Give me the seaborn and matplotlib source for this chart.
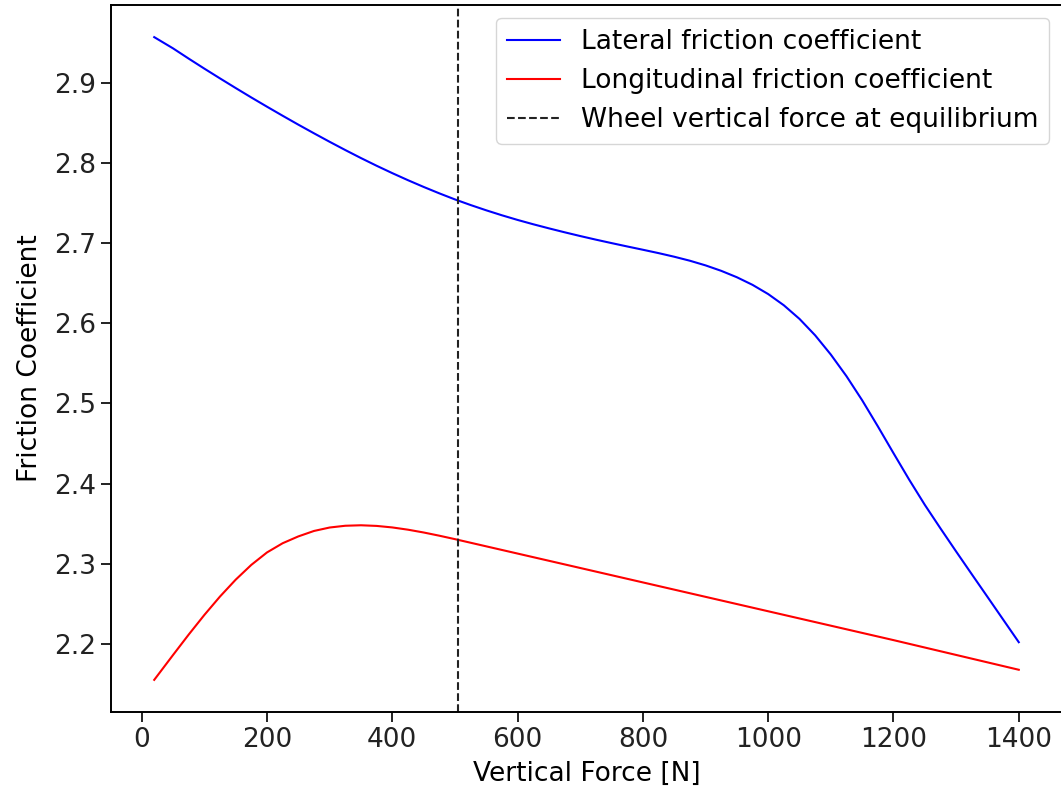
import matplotlib
matplotlib.use("Agg")
import matplotlib.pyplot as plt
import seaborn as sns
import pandas as pd

# Lateral friction coefficient vs vertical wheel load [N]
lateral_force = [20, 50, 75, 100, 125, 150, 175, 200, 225, 250, 275, 300, 325, 350,
                 375, 400, 425, 450, 475, 500, 525, 550, 575, 600, 625, 650, 675,
                 700, 725, 750, 775, 800, 825, 850, 875, 900, 925, 950, 975, 1000,
                 1025, 1050, 1075, 1100, 1125, 1150, 1175, 1200, 1225, 1250, 1275,
                 1300, 1325, 1350, 1375, 1400]
lateral_mu = [2.9570, 2.9430, 2.9302, 2.9177, 2.9055, 2.8935, 2.8817, 2.8702, 2.8589,
              2.8478, 2.8370, 2.8264, 2.8161, 2.8061, 2.7965, 2.7873, 2.7785, 2.7701,
              2.7621, 2.7545, 2.7475, 2.7409, 2.7347, 2.7289, 2.7235, 2.7184, 2.7135,
              2.7088, 2.7043, 2.7000, 2.6958, 2.6917, 2.6875, 2.6830, 2.6780, 2.6722,
              2.6654, 2.6574, 2.6479, 2.6364, 2.6224, 2.6054, 2.5849, 2.5609, 2.5339,
              2.5039, 2.4714, 2.4379, 2.4049, 2.3734, 2.3440, 2.3152, 2.2868, 2.2586,
              2.2303, 2.2020]

# Longitudinal friction coefficient vs vertical wheel load [N]
longitudinal_force = [20, 50, 75, 100, 125, 150, 175, 200, 225, 250, 275, 300, 325,
                      350, 375, 400, 425, 450, 475, 500, 600, 800, 1000, 1200, 1400]
longitudinal_mu = [2.1550, 2.1860, 2.2115, 2.2360, 2.2590, 2.2800, 2.2985, 2.3140,
                   2.3255, 2.3340, 2.3408, 2.3451, 2.3473, 2.3479, 2.3471, 2.3452,
                   2.3424, 2.3389, 2.3349, 2.3306, 2.3126, 2.2766, 2.2406, 2.2046,
                   2.1676]

equilibrium_force = 505

lat_df = pd.DataFrame({"Fz": lateral_force, "mu": lateral_mu})
lon_df = pd.DataFrame({"Fz": longitudinal_force, "mu": longitudinal_mu})

fs = 19
fig = plt.figure(figsize=(10.61, 8.01), dpi=100)
ax = fig.add_axes([111 / 1061, 1 - 712 / 801, (1062 - 111) / 1061, (712 - 5) / 801])

sns.lineplot(data=lat_df, x="Fz", y="mu", ax=ax, color="blue", linewidth=1.5,
             label="Lateral friction coefficient")
sns.lineplot(data=lon_df, x="Fz", y="mu", ax=ax, color="red", linewidth=1.5,
             label="Longitudinal friction coefficient")
ax.axvline(equilibrium_force, color="#222222", linestyle="--", linewidth=1.5,
           label="Wheel vertical force at equilibrium")

ax.set_xlabel("Vertical Force [N]", fontsize=fs, labelpad=6)
ax.set_ylabel("Friction Coefficient", fontsize=fs, labelpad=8)
ax.tick_params(labelsize=fs, width=1.4, length=7, colors="#222222")
for s in ax.spines.values():
    s.set_linewidth(1.4)
ax.legend(loc="upper right", fontsize=fs, handlelength=2.0)

fig.savefig("out.png", dpi=100)
